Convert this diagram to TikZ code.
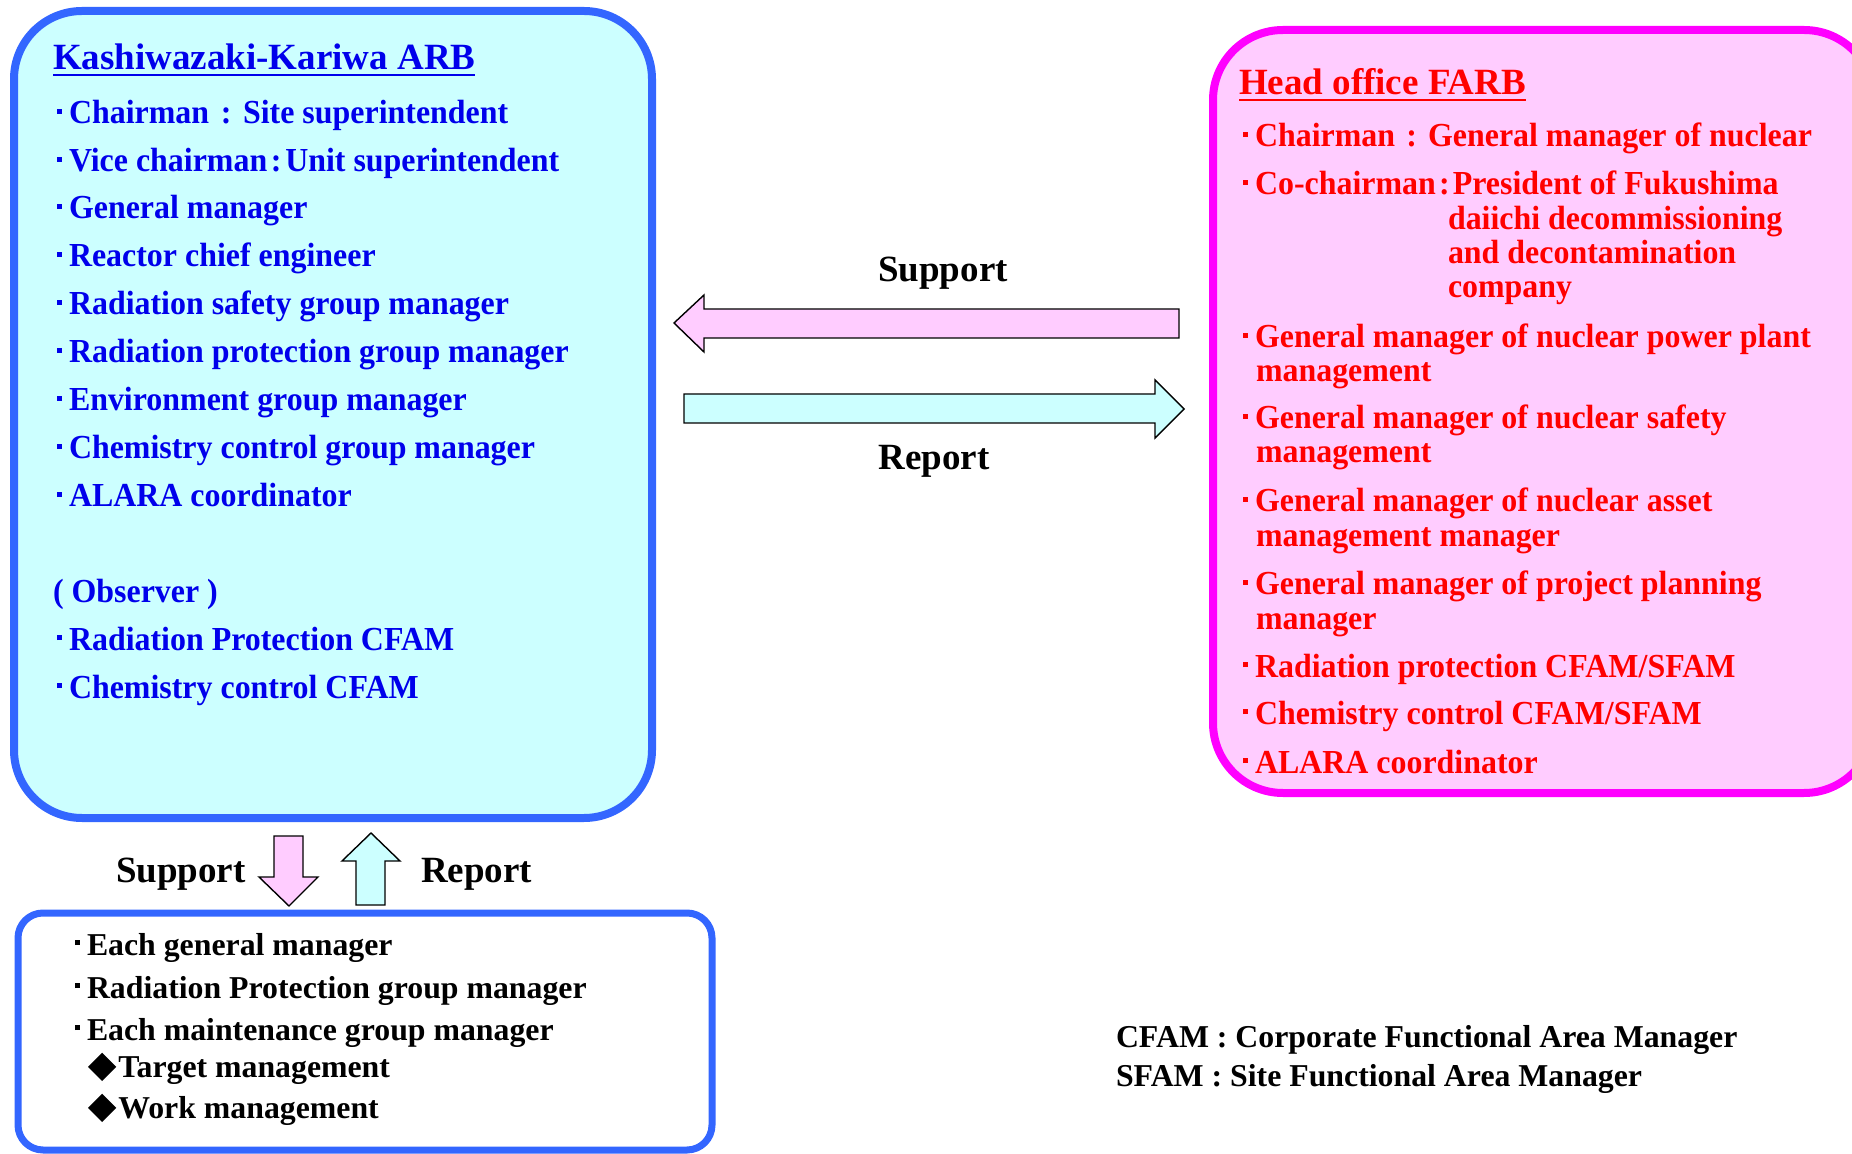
\documentclass[tikz,border=0pt]{standalone}
\usepackage{fontspec}
\usepackage{graphicx}
\setmainfont{Liberation Serif}
\newfontfamily\itemf[FakeStretch=0.95]{Liberation Serif}
\definecolor{txtblue}{RGB}{0,0,235}
\definecolor{txtred}{RGB}{255,0,0}
\definecolor{boxblue}{RGB}{51,102,255}
\definecolor{boxmag}{RGB}{255,0,255}
\definecolor{lcyan}{RGB}{204,255,255}
\definecolor{lpink}{RGB}{255,204,255}
\newcommand\bul{\rule[5pt]{2.5pt}{2.5pt}\hspace{3.5pt}}
\newcommand\dia{\raisebox{-2pt}{\rotatebox{45}{\rule{10pt}{10pt}}}\hspace{1pt}}
\tikzset{
  itm/.style={anchor=base west, inner sep=0pt, outer sep=0pt, font=\itemf\bfseries\fontsize{16.8}{20}\selectfont},
  bl/.style={itm, text=txtblue},
  rd/.style={itm, text=txtred},
  bk/.style={anchor=base west, inner sep=0pt, outer sep=0pt, font=\bfseries\fontsize{15.9}{19}\selectfont},
  ttl/.style={anchor=base west, inner sep=0pt, outer sep=0pt, font=\bfseries\fontsize{18.5}{22}\selectfont},
  lbl/.style={anchor=base, inner sep=0pt, outer sep=0pt, font=\bfseries\fontsize{18.5}{22}\selectfont},
  lbw/.style={lbl, anchor=base west},
  rbox/.style={draw, rounded corners=#1, inner sep=0pt, outer sep=0pt},
  blockarrow/.style={draw=black, line width=0.7pt, line join=miter},
}
\begin{document}
\begin{tikzpicture}[x=0.5pt, y=-0.5pt]
\useasboundingbox (0,0) rectangle (1852,1154);
% boxes
\node[rbox=34pt, draw=boxblue, fill=lcyan, line width=4pt, minimum width=319pt, minimum height=403.5pt] (kkbox) at (333,414.5) {};
\node[rbox=35pt, draw=boxmag, fill=lpink, line width=4pt, minimum width=330.5pt, minimum height=381.5pt] (hobox) at (1543.5,411.5) {};
\node[rbox=12.5pt, draw=boxblue, fill=white, line width=3.5pt, minimum width=347pt, minimum height=118.5pt] (mgbox) at (365,1031.5) {};

% left box texts
\node[ttl, text=txtblue] (kt) at (53,70) {Kashiwazaki-Kariwa ARB};
\draw[txtblue, line width=1.3pt] ([yshift=-2.6pt]kt.base west) -- ([yshift=-2.6pt]kt.base east);
\node[bl] (k1) at (57,124) {\bul Chairman\makebox[17pt]{:}Site superintendent};
\node[bl] (k2) at (57,172) {\bul Vice chairman\makebox[9pt]{:}Unit superintendent};
\node[bl] (k3) at (57,219) {\bul General manager};
\node[bl] (k4) at (57,267) {\bul Reactor chief engineer};
\node[bl] (k5) at (57,315) {\bul Radiation safety group manager};
\node[bl] (k6) at (57,363) {\bul Radiation protection group manager};
\node[bl] (k7) at (57,411) {\bul Environment group manager};
\node[bl] (k8) at (57,459) {\bul Chemistry control group manager};
\node[bl] (k9) at (57,507) {\bul ALARA coordinator};
\node[bl] (k10) at (53,603) {( Observer )};
\node[bl] (k11) at (57,650) {\bul Radiation Protection CFAM};
\node[bl] (k12) at (57,698) {\bul Chemistry control CFAM};

% right box texts
\node[ttl, text=txtred] (ht) at (1239,95) {Head office FARB};
\draw[txtred, line width=1.3pt] ([yshift=-2.6pt]ht.base west) -- ([yshift=-2.6pt]ht.base east);
\node[rd] (h1) at (1243,147) {\bul Chairman\makebox[16.5pt]{:}General manager of nuclear};
\node[rd] (h2) at (1243,195) {\bul Co-chairman\makebox[8.5pt]{:}President of Fukushima};
\node[rd] (h2b) at (1448,230) {daiichi decommissioning};
\node[rd] (h2c) at (1448,264) {and decontamination};
\node[rd] (h2d) at (1448,298) {company};
\node[rd] (h3) at (1243,348) {\bul General manager of nuclear power plant};
\node[rd] (h3b) at (1256,382) {management};
\node[rd] (h4) at (1243,429) {\bul General manager of nuclear safety};
\node[rd] (h4b) at (1256,463) {management};
\node[rd] (h5) at (1243,512) {\bul General manager of nuclear asset};
\node[rd] (h5b) at (1256,546) {management manager};
\node[rd] (h6) at (1243,595) {\bul General manager of project planning};
\node[rd] (h6b) at (1256,629) {manager};
\node[rd] (h7) at (1243,677) {\bul Radiation protection CFAM/SFAM};
\node[rd] (h8) at (1243,724) {\bul Chemistry control CFAM/SFAM};
\node[rd] (h9) at (1243,773) {\bul ALARA coordinator};

% horizontal block arrows
\draw[blockarrow, fill=lpink] (674,323) -- (704,295) -- (704,309) -- (1179,309) -- (1179,338) -- (704,338) -- (704,352) -- cycle;
\draw[blockarrow, fill=lcyan] (1184,409) -- (1155,380) -- (1155,394) -- (684,394) -- (684,423) -- (1155,423) -- (1155,438) -- cycle;
\node[lbl] (sup1) at (943,282) {Support};
\node[lbl] (rep1) at (934,470) {Report};

% vertical block arrows
\draw[blockarrow, fill=lpink] (289,906) -- (259,877) -- (274,877) -- (274,836) -- (303,836) -- (303,877) -- (318,877) -- cycle;
\draw[blockarrow, fill=lcyan] (371,833) -- (342,861) -- (356,861) -- (356,905) -- (385,905) -- (385,861) -- (400,861) -- cycle;
\node[lbw] (sup2) at (116,882) {Support};
\node[lbw] (rep2) at (421,882) {Report};

% bottom box texts
\node[bk] (m1) at (75,955) {\bul Each general manager};
\node[bk] (m2) at (75,998) {\bul Radiation Protection group manager};
\node[bk] (m3) at (75,1040) {\bul Each maintenance group manager};
\node[bk] (m4) at (88,1077) {\dia Target management};
\node[bk] (m5) at (88,1118) {\dia Work management};

% legend
\node[bk] (lg1) at (1116,1047) {CFAM : Corporate Functional Area Manager};
\node[bk] (lg2) at (1116,1086) {SFAM : Site Functional Area Manager};
\end{tikzpicture}
\end{document}
